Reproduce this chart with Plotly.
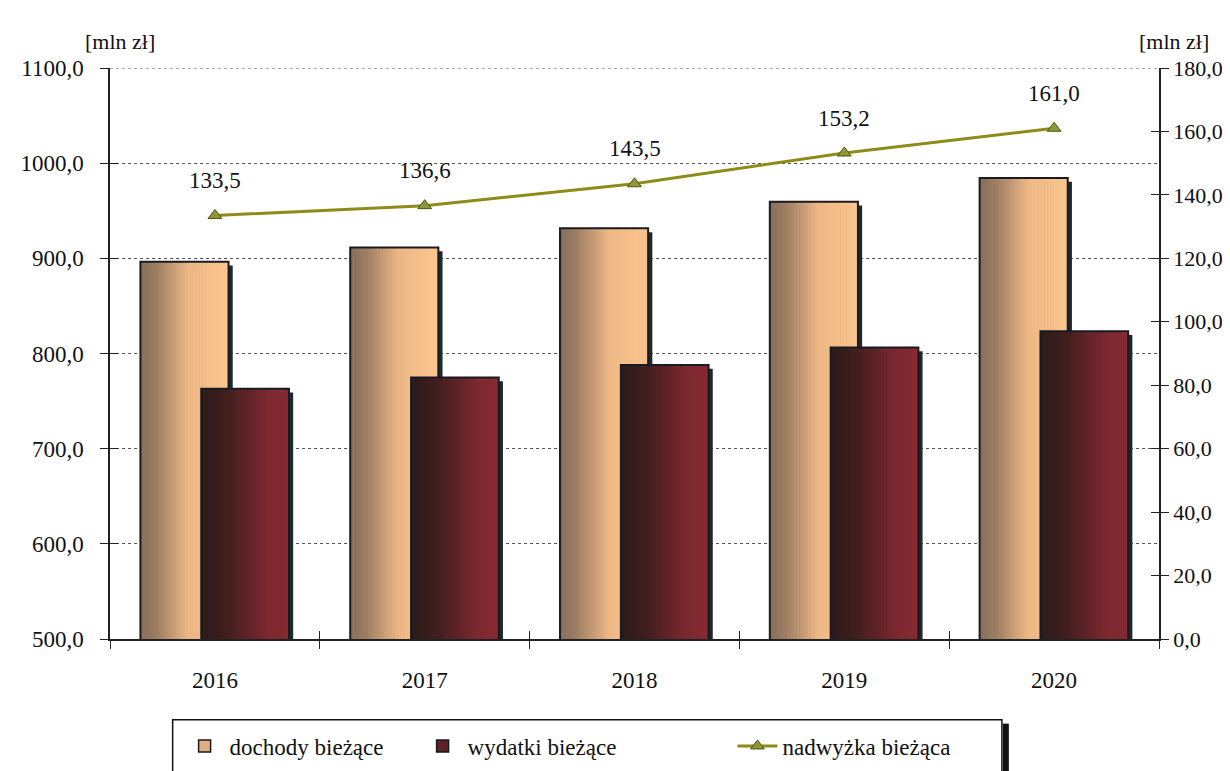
import plotly.graph_objects as go

years = ["2016", "2017", "2018", "2019", "2020"]
dochody = [896.5, 911.5, 931.5, 959.5, 984.5]
wydatki = [763.0, 774.9, 788.0, 806.3, 823.5]
nadwyzka = [133.5, 136.6, 143.5, 153.2, 161.0]
nadwyzka_labels = ["133,5", "136,6", "143,5", "153,2", "161,0"]
names = ["dochody bieżące", "wydatki bieżące", "nadwyżka bieżąca"]

FONT = "Liberation Serif"
FS = 23
N = 30

# plot-area geometry (pixels) used to place paper-referenced decorations
L, R, T, B = 96, 1151, 60, 647


def px_x(p):
    return (p - L) / (R - L)


def px_y(p):
    return (B - p) / (B - T)


def lerp(c1, c2, t):
    return "rgb(%d,%d,%d)" % tuple(round(a + (b - a) * t) for a, b in zip(c1, c2))


def grad(stops, t):
    for (t0, c0), (t1, c1) in zip(stops, stops[1:]):
        if t <= t1:
            return lerp(c0, c1, (t - t0) / (t1 - t0) if t1 > t0 else 0)
    return lerp(stops[-1][1], stops[-1][1], 0)


series = [
    dict(vals=dochody, name=names[0], offset=-0.355, width=0.42,
         stops=[(0, (135, 110, 92)), (0.2, (160, 128, 100)), (0.55, (238, 184, 134)), (1, (252, 198, 142))],
         legend_color="rgb(226,176,128)"),
    dict(vals=wydatki, name=names[1], offset=-0.065, width=0.418,
         stops=[(0, (42, 27, 27)), (0.3, (66, 30, 30)), (0.75, (124, 40, 48)), (1, (136, 42, 50))],
         legend_color="rgb(95,35,38)"),
]

fig = go.Figure()
sx = 0.02
for s in series:
    fig.add_trace(go.Bar(x=years, y=[v - 4 for v in s["vals"]], offset=s["offset"] + sx, width=s["width"],
                         marker=dict(color="#1b2b2b", line=dict(width=0)), showlegend=False, hoverinfo="skip"))
    sw = s["width"] / N
    for i in range(N):
        t = (i + 0.5) / N
        wi = sw * 1.2 if i < N - 1 else sw
        fig.add_trace(go.Bar(x=years, y=s["vals"], offset=s["offset"] + i * sw, width=wi,
                             marker=dict(color=grad(s["stops"], t), line=dict(width=0)),
                             showlegend=False, hoverinfo="skip"))
    fig.add_trace(go.Bar(x=years, y=s["vals"], offset=s["offset"], width=s["width"], name=s["name"],
                         marker=dict(color="rgba(0,0,0,0)", line=dict(color="#1a1a22", width=2)),
                         showlegend=False))
    fig.add_trace(go.Bar(x=[None], y=[None], name=s["name"], legend="legend",
                         marker=dict(color=s["legend_color"], line=dict(color="#1a1a22", width=1.5))))

fig.add_trace(go.Scatter(x=years, y=nadwyzka, yaxis="y2", name=names[2], mode="lines+markers",
                         legend="legend2",
                         line=dict(color="#8e8c18", width=3),
                         marker=dict(symbol="triangle-up", size=12, color="#8a9a3a",
                                     line=dict(color="#55550f", width=1))))

for i, (v, lab) in enumerate(zip(nadwyzka, nadwyzka_labels)):
    fig.add_annotation(x=i, xref="x", y=v, yref="y2", text=lab, showarrow=False, yshift=35,
                       font=dict(family=FONT, size=FS, color="#111"))

fig.add_annotation(x=px_x(106), xref="paper", xanchor="center", y=px_y(33), yref="paper", yanchor="middle",
                   text="[mln zł]", showarrow=False, font=dict(family=FONT, size=22, color="#111"))
fig.add_annotation(x=px_x(1166), xref="paper", xanchor="center", y=px_y(33), yref="paper", yanchor="middle",
                   text="[mln zł]", showarrow=False, font=dict(family=FONT, size=22, color="#111"))

fig.add_shape(type="line", xref="paper", yref="y", x0=0, x1=1, y0=1100, y1=1100,
              line=dict(color="#555", width=1, dash="dot"), layer="below")
fig.add_shape(type="rect", xref="paper", yref="paper", x0=px_x(159), x1=px_x(993), y0=px_y(730), y1=px_y(800),
              line=dict(color="#111", width=1.5), fillcolor="white", layer="below")
fig.add_shape(type="line", xref="paper", yref="paper", x0=px_x(997), x1=px_x(997), y0=px_y(734), y1=px_y(800),
              line=dict(color="#111", width=6))

axfont = dict(family=FONT, size=FS, color="#111")
rfont = dict(family=FONT, size=22, color="#111")
legfont = dict(family=FONT, size=23, color="#111")
fig.update_layout(
    width=1230, height=771,
    margin=dict(l=L, r=1230 - R, t=T, b=771 - B),
    paper_bgcolor="white", plot_bgcolor="white",
    barmode="overlay",
    separators=",.",
    font=dict(family=FONT, size=FS, color="#111"),
    xaxis=dict(type="category", range=[-0.5, 4.5], showline=True, linecolor="#222", linewidth=1.5,
               ticks="outside", tickson="boundaries", ticklen=8, tickcolor="#222",
               tickfont=axfont, ticklabelstandoff=20, showgrid=False),
    yaxis=dict(range=[500, 1100], dtick=100, tickformat=".1f", showline=True, linecolor="#222", linewidth=1.5,
               ticks="outside", ticklen=8, tickcolor="#222", tickfont=axfont, ticklabelstandoff=12,
               showgrid=True, gridcolor="#555", griddash="dot", gridwidth=1, zeroline=False),
    yaxis2=dict(range=[0, 180], dtick=20, tickformat=".1f", overlaying="y", side="right",
                showline=True, linecolor="#222", linewidth=1.5, ticks="outside", ticklen=8, tickcolor="#222",
                tickfont=rfont, ticklabelstandoff=0, showgrid=False, zeroline=False),
    yaxis3=dict(range=[500, 1100], dtick=100, overlaying="y", side="left", anchor="x", ticks="inside",
                ticklen=8, tickcolor="#222", showticklabels=False, showgrid=False, zeroline=False, showline=False),
    yaxis4=dict(range=[0, 180], dtick=20, overlaying="y", side="right", anchor="x", ticks="inside",
                ticklen=8, tickcolor="#222", showticklabels=False, showgrid=False, zeroline=False, showline=False),
    xaxis2=dict(range=[-0.5, 4.5], tickvals=[-0.5, 0.5, 1.5, 2.5, 3.5, 4.5], overlaying="x", anchor="y",
                side="bottom", ticks="inside", ticklen=8, tickcolor="#222", showticklabels=False,
                showgrid=False, zeroline=False, showline=False),
    legend=dict(orientation="h", x=px_x(166), xanchor="left", y=px_y(757), yanchor="middle",
                borderwidth=0, bgcolor="rgba(0,0,0,0)", font=legfont, itemwidth=40, entrywidth=183,
                traceorder="normal"),
    legend2=dict(orientation="h", x=px_x(722), xanchor="left", y=px_y(757), yanchor="middle",
                 borderwidth=0, bgcolor="rgba(0,0,0,0)", font=legfont, itemwidth=40),
)
fig.add_trace(go.Scatter(x=[None], y=[None], yaxis="y3", showlegend=False, hoverinfo="skip"))
fig.add_trace(go.Scatter(x=[None], y=[None], yaxis="y4", showlegend=False, hoverinfo="skip"))
fig.add_trace(go.Scatter(x=[None], y=[None], xaxis="x2", showlegend=False, hoverinfo="skip"))

fig.write_html("out.html")
